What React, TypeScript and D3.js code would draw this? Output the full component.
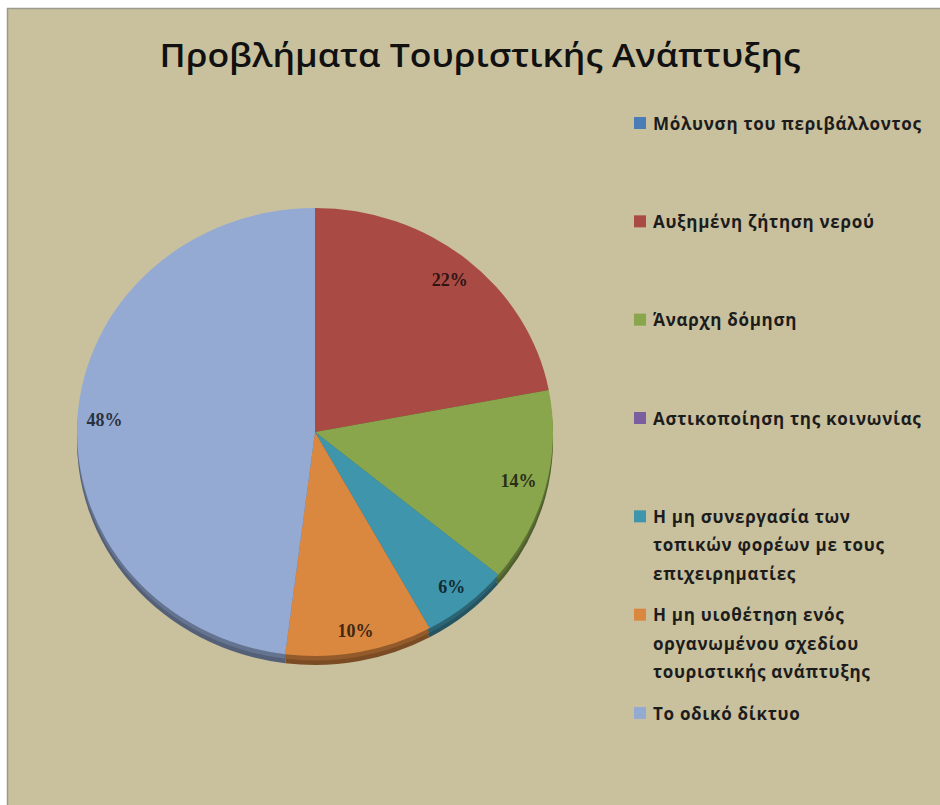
import React from "react";
import * as d3 from "d3";

const title = "Προβλήματα Τουριστικής Ανάπτυξης";
const categories = [
  "Μόλυνση του περιβάλλοντος",
  "Αυξημένη ζήτηση νερού",
  "Άναρχη δόμηση",
  "Αστικοποίηση της κοινωνίας",
  "Η μη συνεργασία των\nτοπικών φορέων με τους\nεπιχειρηματίες",
  "Η μη υιοθέτηση ενός\nοργανωμένου σχεδίου\nτουριστικής ανάπτυξης",
  "Το οδικό δίκτυο",
];
const values = [0, 22, 14, 0, 6, 10, 48];
const colors = ["#4A7DB8", "#A94A45", "#8AA64D", "#7B5EA0", "#3F95AB", "#DA8740", "#94AAD3"];

const W = 940;
const H = 805;
const cx = 315;
const cy = 432;
const rx = 238;
const ry = 224;
const depth = 9;

export default function App() {
  const pie = d3.pie<number>().sort(null).value((d) => d).startAngle(0).endAngle(2 * Math.PI);
  const arcs = pie(values);
  const arc = d3.arc<d3.PieArcDatum<number>>().innerRadius(0).outerRadius(rx);
  const total = d3.sum(values);

  const legendY = d3.scalePoint<number>().domain(d3.range(categories.length)).range([123, 713]);
  const lineH = 28.5;
  const labelFont = 18;

  return (
    <svg width={W} height={H} style={{ position: "absolute", left: 0, top: 0 }}>
      <rect x={0} y={0} width={W} height={H} fill="#ffffff" />
      <rect x={7.5} y={8.5} width={W} height={H} fill="#C9C19E" stroke="#9c9a8c" strokeWidth={1.5} />
      <text
        x={480}
        y={67}
        textAnchor="middle"
        fontFamily="'Open Sans', 'DejaVu Sans', sans-serif"
        fontWeight={600}
        fontSize={32}
        fill="#111"
        textLength={641}
        lengthAdjust="spacingAndGlyphs"
      >
        {title}
      </text>

      {/* depth (side) */}
      <g transform={`translate(${cx},${cy + depth}) scale(1,${ry / rx})`}>
        {arcs.map((a, i) =>
          a.value > 0 ? (
            <path key={i} d={arc(a) || ""} fill={d3.color(colors[i])!.darker(1.6).toString()} />
          ) : null
        )}
      </g>
      <g transform={`translate(${cx},${cy + depth / 2}) scale(1,${ry / rx})`}>
        {arcs.map((a, i) =>
          a.value > 0 ? (
            <path key={i} d={arc(a) || ""} fill={d3.color(colors[i])!.darker(1.1).toString()} />
          ) : null
        )}
      </g>
      {/* top */}
      <g transform={`translate(${cx},${cy}) scale(1,${ry / rx})`}>
        {arcs.map((a, i) =>
          a.value > 0 ? <path key={i} d={arc(a) || ""} fill={colors[i]} /> : null
        )}
      </g>

      {/* labels */}
      {arcs.map((a, i) => {
        if (a.value <= 0) return null;
        const m = (a.startAngle + a.endAngle) / 2;
        const s = Math.sin(m);
        const c = Math.cos(m);
        const txt = `${Math.round((a.value / total) * 100)}%`;
        const hw = txt.length * labelFont * 0.27;
        const hh = labelFont * 0.38;
        const off = 12 + hw * Math.abs(s) + hh * Math.abs(c);
        const ex = cx + rx * s;
        const ey = cy - ry * c;
        const x = ex - s * off;
        const y = ey + c * off;
        return (
          <text
            key={i}
            x={x}
            y={y}
            textAnchor="middle"
            dominantBaseline="central"
            fontFamily="'Liberation Serif', 'DejaVu Serif', serif"
            fontWeight={600}
            fontSize={labelFont}
            fill={d3.color(colors[i])!.darker(3.5).toString()}
          >
            {txt}
          </text>
        );
      })}

      {/* legend */}
      {categories.map((cat, i) => {
        const y0 = legendY(i)!;
        const lines = cat.split("\n");
        return (
          <g key={i}>
            <rect x={634} y={y0 - 6} width={12} height={12} fill={colors[i]} />
            {lines.map((ln, j) => (
              <text
                key={j}
                x={653}
                y={y0 + j * lineH}
                dominantBaseline="central"
                fontFamily="'Open Sans', 'DejaVu Sans', sans-serif"
                fontWeight={700}
                fontSize={17}
                letterSpacing={0.7}
                fill="#1c1c1c"
              >
                {ln}
              </text>
            ))}
          </g>
        );
      })}
    </svg>
  );
}
